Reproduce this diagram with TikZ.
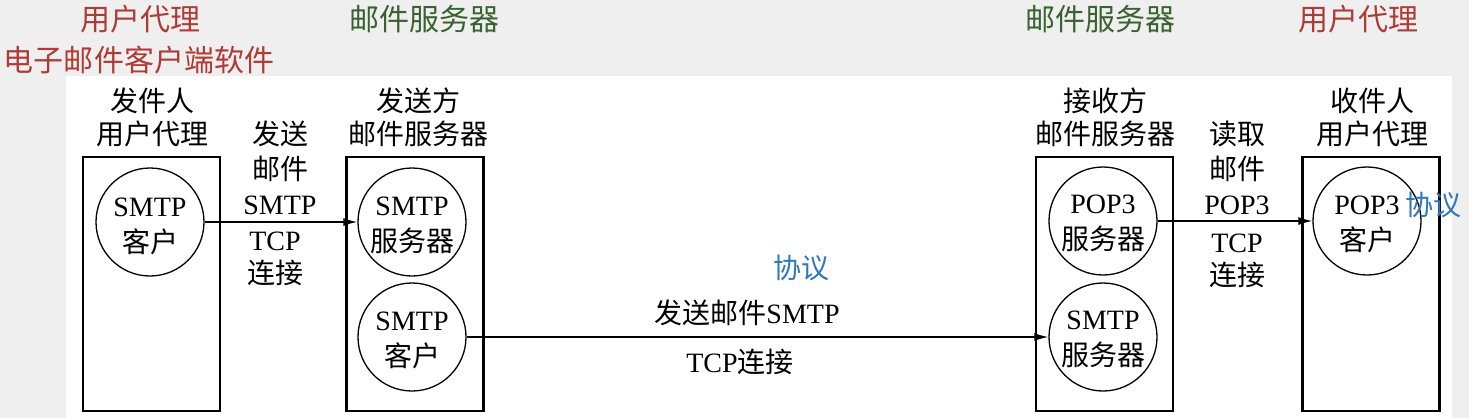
\documentclass[tikz,border=0pt]{standalone}
\usepackage{fontspec}
\setmainfont{Liberation Serif}
\newfontfamily\cjk{Noto Sans CJK SC}
\usetikzlibrary{arrows.meta}
\definecolor{bggray}{HTML}{EFEFEF}
\definecolor{annred}{HTML}{B03A35}
\definecolor{anngreen}{HTML}{3A6230}
\definecolor{annblue}{HTML}{2F78BD}
\begin{document}
\begin{tikzpicture}[x=1pt,y=-1pt,
  box/.style={draw, line width=2.5pt, minimum width=137pt, minimum height=254pt, inner sep=0pt},
  proc/.style={draw, circle, line width=1.3pt, minimum size=108pt, inner sep=0pt},
  txt/.style={inner sep=0pt, align=center, font=\fontsize{28}{33}\selectfont},
  ctxt/.style={inner sep=0pt, align=center, font=\fontsize{28}{36}\selectfont},
  ann/.style={inner sep=0pt, font=\cjk\fontsize{30}{36}\selectfont},
  link/.style={line width=1.5pt, -{Latex[length=14pt,width=8pt]}}]
\path[use as bounding box] (0,0) rectangle (1469,418);
\fill[bggray] (0,0) rectangle (1469,418);
\fill[white] (66,76) rectangle (1452,418);

% top annotations
\node[ann, text=annred] (a1) at (140,19) {用户代理};
\node[ann, text=annred] (a2) at (139,60) {电子邮件客户端软件};
\node[ann, text=anngreen] (a3) at (424,19) {邮件服务器};
\node[ann, text=anngreen] (a4) at (1100,19) {邮件服务器};
\node[ann, text=annred] (a5) at (1358,19) {用户代理};

% boxes
\node[box] (b1) at (151.5,284) {};
\node[box] (b2) at (415,284) {};
\node[box] (b3) at (1104.5,284) {};
\node[box] (b4) at (1371,284) {};

% box labels
\node[txt] (l1) at (152,117) {{\cjk 发件人}\\{\cjk 用户代理}};
\node[txt] (l2) at (418,117) {{\cjk 发送方}\\{\cjk 邮件服务器}};
\node[txt] (l3) at (1105,117) {{\cjk 接收方}\\{\cjk 邮件服务器}};
\node[txt] (l4) at (1372,117) {{\cjk 收件人}\\{\cjk 用户代理}};

% circles
\node[proc] (c1) at (150,222) {};
\node[proc] (c2) at (412,222) {};
\node[proc] (c3) at (412,337) {};
\node[proc] (c4) at (1103,221) {};
\node[proc] (c5) at (1103,337) {};
\node[proc] (c6) at (1367,221) {};
\node[ctxt] (t1) at ([yshift=-4pt]c1.center) {SMTP\\{\cjk 客户}};
\node[ctxt] (t2) at ([yshift=-3pt]c2.center) {SMTP\\{\cjk 服务器}};
\node[ctxt] (t3) at ([yshift=-3pt]c3.center) {SMTP\\{\cjk 客户}};
\node[ctxt] (t4) at ([yshift=-2pt]c4.center) {POP3\\{\cjk 服务器}};
\node[ctxt] (t5) at ([yshift=-2pt]c5.center) {SMTP\\{\cjk 服务器}};
\node[ctxt] (t6) at ([yshift=-3pt]c6.center) {POP3\\{\cjk 客户}};

% connectors
\draw[link] (c1.east) -- (c2.west);
\draw[link] (c3.east) -- (c5.west);
\draw[link] (c4.east) -- (c6.west);

% connector labels
\node[txt, font=\fontsize{28}{35}\selectfont] (s1) at (280,168) {{\cjk 发送}\\{\cjk 邮件}\\SMTP};
\node[txt] (s2) at (275,259) {TCP\\{\cjk 连接}};
\node[txt] (m1) at (747,313) {{\cjk 发送邮件}SMTP};
\node[txt] (m2) at (740,362) {TCP{\cjk 连接}};
\node[txt, text=annblue] (m3) at (801,268) {\cjk 协议};
\node[txt, font=\fontsize{28}{35}\selectfont] (r1) at (1237,168) {{\cjk 读取}\\{\cjk 邮件}\\POP3};
\node[txt] (r2) at (1237,261) {TCP\\{\cjk 连接}};
\node[txt, text=annblue] (r3) at (1433,205) {\cjk 协议};
\end{tikzpicture}
\end{document}
